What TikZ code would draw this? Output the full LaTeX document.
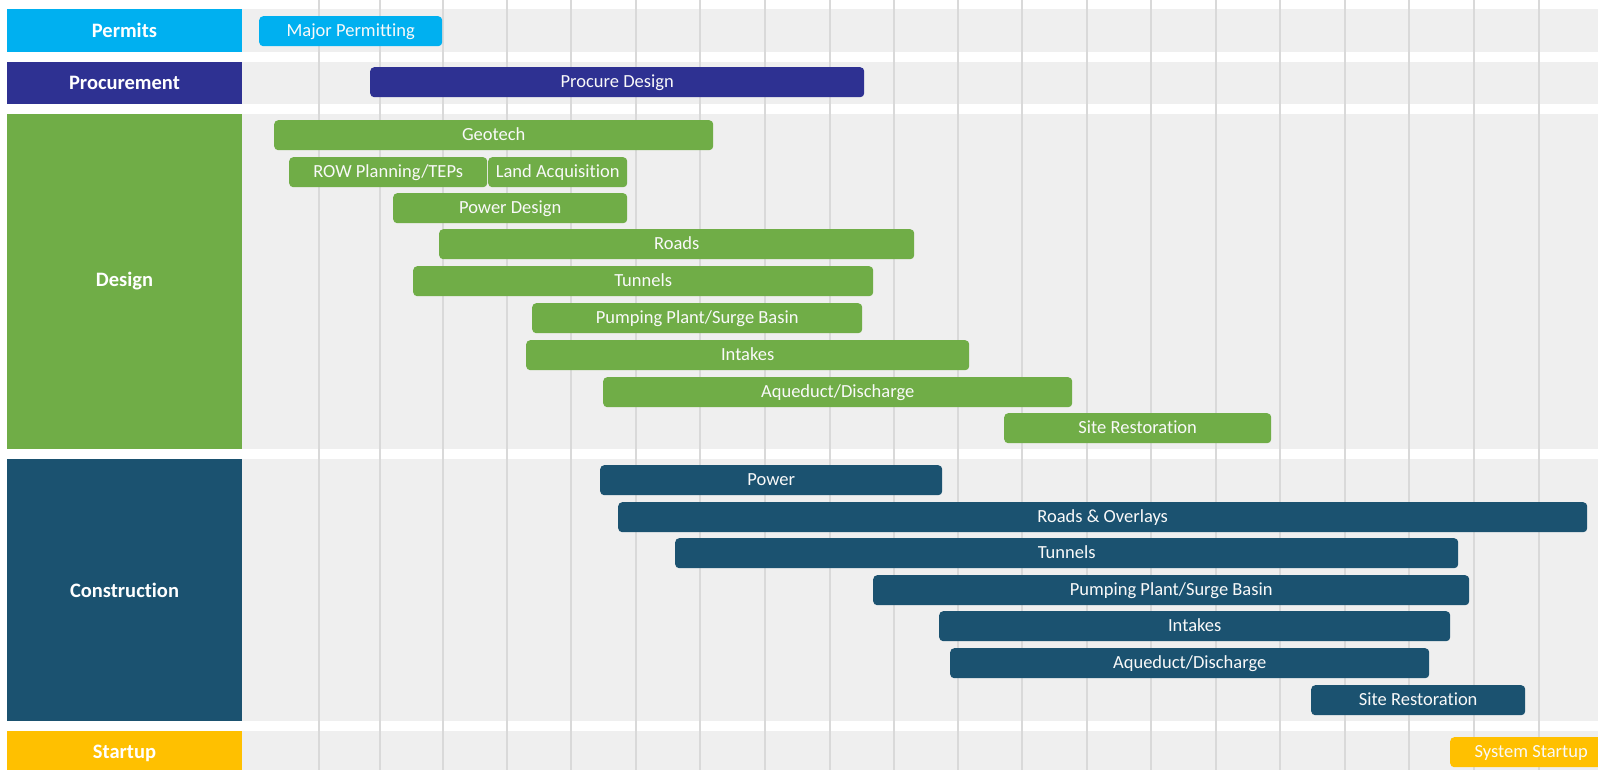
\documentclass[tikz,border=0pt]{standalone}
\usepackage{fontspec}
\setmainfont{Carlito}[Ligatures=NoCommon]
\usepackage{tikz}
\usetikzlibrary{positioning,calc}
\definecolor{permitblue}{HTML}{00B0F0}
\definecolor{procblue}{HTML}{2E3192}
\definecolor{designgreen}{HTML}{70AD47}
\definecolor{constblue}{HTML}{1B5270}
\definecolor{startyellow}{HTML}{FFC000}
\definecolor{bandgray}{HTML}{EFEFEF}
\definecolor{gridgray}{HTML}{D9D9D9}

\begin{document}
\begin{tikzpicture}[x=1pt,y=-1pt,
  gbar/.style={fill=#1, rounded corners=4pt, inner sep=0pt, minimum height=30pt, text height=14pt, text depth=3pt, anchor=north west, text=white!95!gray, font=\fontsize{18.5}{20}\selectfont},
  plabel/.style={text=white, font=\bfseries\fontsize{20.5}{22}\selectfont}]
\useasboundingbox (0,0) rectangle (1598,770);
\clip (0,0) rectangle (1598,770);
\fill[white] (0,0) rectangle (1598,770);

\foreach \name/\txt/\col/\top/\bot in {permits/Permits/permitblue/9/52, proc/Procurement/procblue/62/104, design/Design/designgreen/114/449, constr/Construction/constblue/459/721, startup/Startup/startyellow/731/776}{
  \fill[bandgray] (242,\top) rectangle (1598,\bot);
  \fill[\col] (7,\top) rectangle (242,\bot);
  \node[plabel] (\name) at (124.5,{(\top+\bot)/2}) {\txt};
}

\foreach \gx in {319,380,443,507,571,636,700,765,830,894,958,1022,1087,1151,1216,1280,1345,1409,1474,1539}
  \draw[gridgray, line width=1.2pt] (\gx,0) -- (\gx,770);

\node[gbar=permitblue, minimum width=183] (majperm) at (259,16) {Major Permitting};
\node[gbar=procblue, minimum width=494] (procdes) at (370,67) {Procure Design};

\foreach \txt/\xa/\xb/\ya [count=\i] in {Geotech/274/713/120, {ROW Planning/TEPs}/289/487/157, {Land Acquisition}/488/627/157, {Power Design}/393/627/193, Roads/439/914/229, Tunnels/413/873/266, {Pumping Plant/Surge Basin}/532/862/303, Intakes/526/969/340, {Aqueduct/Discharge}/603/1072/377, {Site Restoration}/1004/1271/413}
  \node[gbar=designgreen, minimum width=\xb-\xa] (des\i) at (\xa,\ya) {\txt};

\foreach \txt/\xa/\xb/\ya [count=\i] in {Power/600/942/465, {Roads \& Overlays}/618/1587/502, Tunnels/675/1458/538, {Pumping Plant/Surge Basin}/873/1469/575, Intakes/939/1450/611, {Aqueduct/Discharge}/950/1429/648, {Site Restoration}/1311/1525/685}
  \node[gbar=constblue, minimum width=\xb-\xa] (con\i) at (\xa,\ya) {\txt};

\node[gbar=startyellow, minimum width=162] (sysstart) at (1450,737) {System Startup};
\end{tikzpicture}
\end{document}
